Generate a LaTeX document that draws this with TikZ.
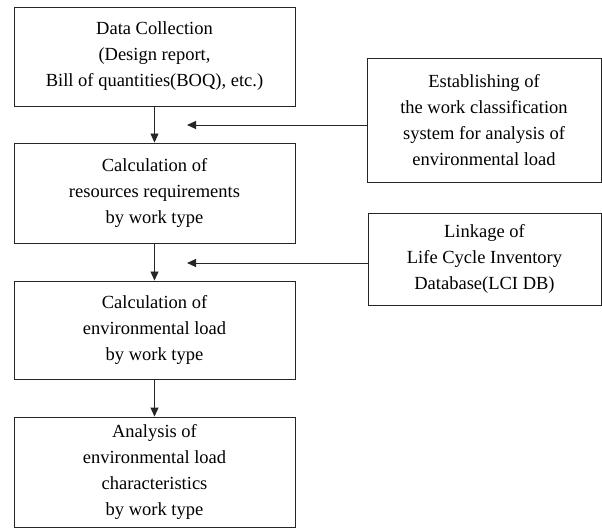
\documentclass[tikz,border=0pt]{standalone}
\usepackage{fontspec}
\setmainfont{Liberation Serif}
\usetikzlibrary{arrows.meta}
\begin{document}
\begin{tikzpicture}[x=1pt,y=-1pt,
  boxst/.style={draw=black!85, line width=0.9pt, rectangle, inner sep=0pt, align=center,
    font=\fontsize{18.5}{26}\selectfont},
  arr/.style={draw=black!85, line width=0.9pt, -{Triangle[length=9pt,width=8pt]}}]
\useasboundingbox (0,0) rectangle (602,529);
\node[boxst, minimum width=281pt, minimum height=99pt] (b1) at (154.5,56.5)
  {Data Collection\\(Design report,\\Bill of quantities(BOQ), etc.)};
\node[boxst, minimum width=281pt, minimum height=100pt] (b2) at (154.5,193)
  {Calculation of\\resources requirements\\by work type};
\node[boxst, minimum width=281pt, minimum height=98pt] (b3) at (154.5,330)
  {Calculation of\\environmental load\\by work type};
\node[boxst, minimum width=281pt, minimum height=110pt] (b4) at (154.5,472)
  {Analysis of\\environmental load\\characteristics\\by work type};
\node[boxst, minimum width=234pt, minimum height=124pt] (ra) at (484,120)
  {Establishing of\\the work classification\\system for analysis of\\environmental load};
\node[boxst, minimum width=233pt, minimum height=92pt] (rb) at (484.5,259)
  {Linkage of\\Life Cycle Inventory\\Database(LCI DB)};
\coordinate (ha) at (187,125);
\coordinate (hb) at (187,263);
\draw[arr] (b1) -- (b2);
\draw[arr] (b2) -- (b3);
\draw[arr] (b3) -- (b4);
\draw[arr] (ra.west |- ha) -- (ha);
\draw[arr] (rb.west |- hb) -- (hb);
\end{tikzpicture}
\end{document}
